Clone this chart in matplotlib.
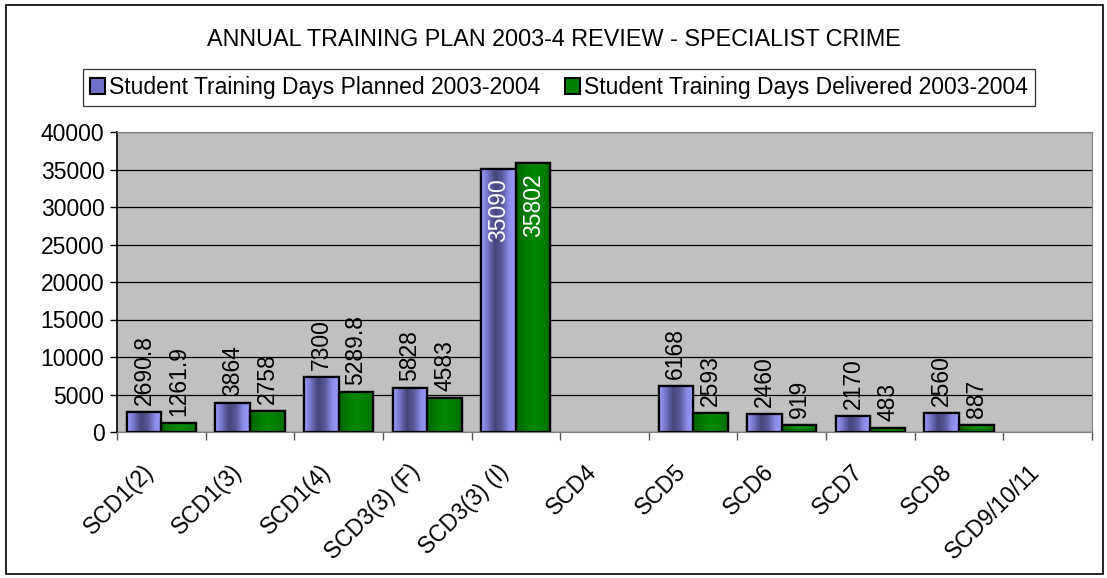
import numpy as np
import matplotlib.pyplot as plt
import matplotlib.transforms as mtransforms
from matplotlib.patches import Rectangle
from matplotlib.colors import LinearSegmentedColormap

plt.rcParams['font.family'] = ['Liberation Sans', 'DejaVu Sans']

categories = ['SCD1(2)', 'SCD1(3)', 'SCD1(4)', 'SCD3(3) (F)', 'SCD3(3) (I)', 'SCD4',
              'SCD5', 'SCD6', 'SCD7', 'SCD8', 'SCD9/10/11']
planned = [2690.8, 3864, 7300, 5828, 35090, None, 6168, 2460, 2170, 2560, None]
delivered = [1261.9, 2758, 5289.8, 4583, 35802, None, 2593, 919, 483, 887, None]
planned_labels = ['2690.8', '3864', '7300', '5828', '35090', '', '6168', '2460', '2170', '2560', '']
delivered_labels = ['1261.9', '2758', '5289.8', '4583', '35802', '', '2593', '919', '483', '887', '']

W, H = 1107, 578
fig = plt.figure(figsize=(W / 100, H / 100), dpi=100)
ax = fig.add_axes([117 / W, 1 - 432 / H, (1092 - 117) / W, 300 / H])
ax.set_facecolor('#C0C0C0')

# outer chart border
fig.patches.append(Rectangle((6 / W, 4 / H), 1097 / W, 569 / H, transform=fig.transFigure,
                             fill=False, edgecolor='black', linewidth=1.2))

x = np.arange(len(categories))
bw = 0.39
ip = [i for i, v in enumerate(planned) if v is not None]
idl = [i for i, v in enumerate(delivered) if v is not None]

bars_p = ax.bar(x[ip] - bw / 2, [planned[i] for i in ip], bw, color='#9999FF', edgecolor='black',
                linewidth=1.6, zorder=3, label='Student Training Days Planned 2003-2004')
bars_d = ax.bar(x[idl] + bw / 2, [delivered[i] for i in idl], bw, color='#008000', edgecolor='black',
                linewidth=1.6, zorder=3, label='Student Training Days Delivered 2003-2004')

# cylinder-like shading across each bar
blue_cm = LinearSegmentedColormap.from_list('b', ['#9C9CFF', '#7272C4', '#46467C', '#585898', '#8A8AE6', '#9C9CFF'])
green_cm = LinearSegmentedColormap.from_list('g', ['#006400', '#007A00', '#008800', '#008000', '#006C00'])
grad = np.linspace(0, 1, 64).reshape(1, -1)
for bars, cm in ((bars_p, blue_cm), (bars_d, green_cm)):
    for b in bars:
        bx, by, bwid, bh = b.get_x(), b.get_y(), b.get_width(), b.get_height()
        im = ax.imshow(grad, cmap=cm, aspect='auto', extent=(bx, bx + bwid, by, by + bh),
                       zorder=3.5, interpolation='bilinear')
        im.set_clip_path(b)
        ax.add_patch(Rectangle((bx, by), bwid, bh, fill=False, edgecolor='black',
                               linewidth=1.6, zorder=4))

# value labels, inside the bar when it would run past the top
for bars, idx, labs in ((bars_p, ip, planned_labels), (bars_d, idl, delivered_labels)):
    for b, i in zip(bars, idx):
        xc = b.get_x() + b.get_width() / 2
        v = b.get_height()
        if v > 30000:
            ax.annotate(labs[i], (xc, v), xytext=(0, -7), textcoords='offset points', rotation=90,
                        ha='center', va='top', color='white', fontsize=16.5, zorder=5)
        else:
            ax.annotate(labs[i], (xc, v), xytext=(0, 5), textcoords='offset points', rotation=90,
                        ha='center', va='bottom', color='black', fontsize=16.5, zorder=5)

ax.set_xlim(-0.5, len(categories) - 0.5)
ax.set_ylim(0, 40000)
ax.set_yticks(np.arange(0, 40001, 5000))
ax.yaxis.grid(True, color='black', linewidth=0.9, zorder=1)
ax.set_axisbelow(True)
ax.tick_params(axis='y', labelsize=16.5, length=5, width=1, direction='out', pad=4)

ax.set_xticks(np.arange(-0.5, len(categories) + 0.5, 1))
ax.set_xticklabels([])
ax.set_xticks(x, minor=True)
ax.set_xticklabels(categories, minor=True, rotation=45, ha='right', va='center',
                   rotation_mode='anchor', fontsize=16.5)
ax.tick_params(axis='x', which='major', length=6, width=1, color='#555555', direction='out')
ax.tick_params(axis='x', which='minor', length=0, pad=26)
shift = mtransforms.ScaledTranslation(-8 / 72, 0, fig.dpi_scale_trans)
for lab in ax.get_xticklabels(minor=True):
    lab.set_transform(lab.get_transform() + shift)

for s in ('top', 'right', 'bottom'):
    ax.spines[s].set_color('#808080')
ax.spines['left'].set_color('black')
ax.spines['left'].set_linewidth(1.2)

fig.text(0.5, 1 - 40 / H, 'ANNUAL TRAINING PLAN 2003-4 REVIEW - SPECIALIST CRIME',
         ha='center', va='center', fontsize=16.8)

handles = [Rectangle((0, 0), 1, 1, facecolor='#7070C8', edgecolor='black', linewidth=1.5),
           Rectangle((0, 0), 1, 1, facecolor='#008000', edgecolor='black', linewidth=1.5)]
leg = fig.legend(handles, [bars_p.get_label(), bars_d.get_label()], loc='center',
                 bbox_to_anchor=(559 / W, 1 - 87.5 / H), ncol=2, fontsize=16.5, frameon=True,
                 fancybox=False, edgecolor='black', handlelength=0.65, handleheight=0.65,
                 handletextpad=0.17, columnspacing=1.1, borderpad=0.3, borderaxespad=0)
leg.get_frame().set_linewidth(0.9)

fig.savefig('out.png', dpi=100)
